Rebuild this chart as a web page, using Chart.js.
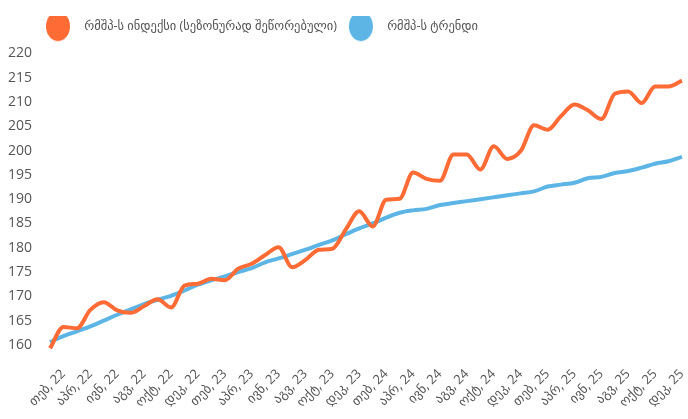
<!DOCTYPE html>
<html>
<head>
<meta charset="utf-8">
<script src="https://cdn.jsdelivr.net/npm/chart.js@4.4.1/dist/chart.umd.min.js"></script>
<style>
  html, body { margin: 0; padding: 0; background: #fff; }
  #wrap { width: 688px; height: 419px; }
</style>
</head>
<body>
<div id="wrap"><canvas id="chart"></canvas></div>
<script>
// monthly, Jan 2022 .. Dec 2025
const months = ['იან', 'თებ', 'მარ', 'აპრ', 'მაი', 'ივნ', 'ივლ', 'აგვ', 'სექ', 'ოქტ', 'ნოე', 'დეკ'];
const years = ['22', '23', '24', '25'];
const labels = [];
years.forEach(y => months.forEach(m => labels.push(m + ', ' + y)));

const yTicks = [160, 165, 170, 175, 180, 185, 190, 195, 200, 205, 210, 215, 220];

const indexName = 'რმშპ-ს ინდექსი (სეზონურად შეწორებული)';
const trendName = 'რმშპ-ს ტრენდი';

const indexValues = [
  159.3, 163.7, 163.4, 167.2, 168.8, 167.1, 166.6, 168.0, 169.4, 167.7, 172.2, 172.6,
  173.6, 173.3, 175.7, 176.7, 178.5, 180.1, 176.0, 177.5, 179.6, 179.8, 183.8, 187.5,
  184.4, 189.9, 190.1, 195.5, 194.2, 193.8, 199.2, 199.2, 196.1, 200.9, 198.3, 199.9,
  205.2, 204.3, 207.1, 209.5, 208.3, 206.5, 211.7, 212.2, 209.8, 213.2, 213.2, 214.4
];
const trendValues = [
  160.6, 161.8, 162.8, 163.8, 165.0, 166.2, 167.3, 168.4, 169.3, 170.1, 171.2, 172.4,
  173.3, 174.1, 175.0, 175.8, 177.0, 177.8, 178.7, 179.6, 180.6, 181.5, 182.8, 184.0,
  185.0, 186.2, 187.2, 187.7, 188.0, 188.8, 189.2, 189.6, 190.0, 190.4, 190.8, 191.2,
  191.6, 192.6, 193.0, 193.4, 194.3, 194.6, 195.4, 195.8, 196.5, 197.3, 197.8, 198.7
];

const orange = '#ff6b35';
const blue = '#5db5e5';
const textColor = '#555';
const fontFamily = "'Open Sans', 'DejaVu Sans', sans-serif";

// oval legend marker
const makeDot = color => {
  const c = document.createElement('canvas');
  c.width = 26; c.height = 32;
  const g = c.getContext('2d');
  g.fillStyle = color;
  g.beginPath();
  g.ellipse(13, 16, 12, 15, 0, 0, Math.PI * 2);
  g.fill();
  return c;
};

// legend: more room below it, and shifted to the left like the original
const legendTweak = {
  id: 'legendTweak',
  beforeInit(chart) {
    const fit = chart.legend.fit;
    chart.legend.fit = function () {
      fit.bind(chart.legend)();
      this.height += 11;
    };
  },
  afterLayout(chart) {
    const lg = chart.legend;
    const w = lg.right - lg.left;
    lg.left = 34;
    lg.right = 34 + w;
  }
};

new Chart(document.getElementById('chart'), {
  type: 'line',
  data: {
    labels,
    datasets: [
      {
        label: indexName,
        data: indexValues,
        borderColor: orange,
        backgroundColor: orange,
        borderWidth: 4,
        pointRadius: 0,
        pointStyle: makeDot(orange),
        cubicInterpolationMode: 'monotone'
      },
      {
        label: trendName,
        data: trendValues,
        borderColor: blue,
        backgroundColor: blue,
        borderWidth: 4,
        pointRadius: 0,
        pointStyle: makeDot(blue),
        cubicInterpolationMode: 'monotone'
      }
    ]
  },
  options: {
    responsive: true,
    maintainAspectRatio: false,
    animation: false,
    layout: { padding: { left: 4, right: 6, top: 16, bottom: 0 } },
    plugins: {
      legend: {
        position: 'top',
        align: 'start',
        labels: {
          usePointStyle: true,
          pointStyleWidth: 40,
          color: textColor,
          font: { family: fontFamily, size: 12.5 },
          padding: 4
        }
      },
      tooltip: { enabled: false }
    },
    scales: {
      x: {
        grid: { display: false },
        border: { display: false },
        afterFit: axis => { axis.paddingRight = 0; axis.paddingLeft = 0; },
        ticks: {
          autoSkip: false,
          maxRotation: 45,
          minRotation: 45,
          padding: 8.5,
          color: textColor,
          font: { family: fontFamily, size: 13 },
          callback: function (val, idx) {
            return idx % 2 === 1 ? this.getLabelForValue(val) : '';
          }
        }
      },
      y: {
        min: 159,
        max: 220,
        grid: { display: false },
        border: { display: false },
        afterFit: axis => { axis.width -= 6; },
        afterBuildTicks: axis => {
          axis.ticks = yTicks.map(v => ({ value: v }));
        },
        ticks: {
          padding: 10,
          color: textColor,
          font: { family: fontFamily, size: 14 }
        }
      }
    }
  },
  plugins: [legendTweak]
});
</script>
</body>
</html>
